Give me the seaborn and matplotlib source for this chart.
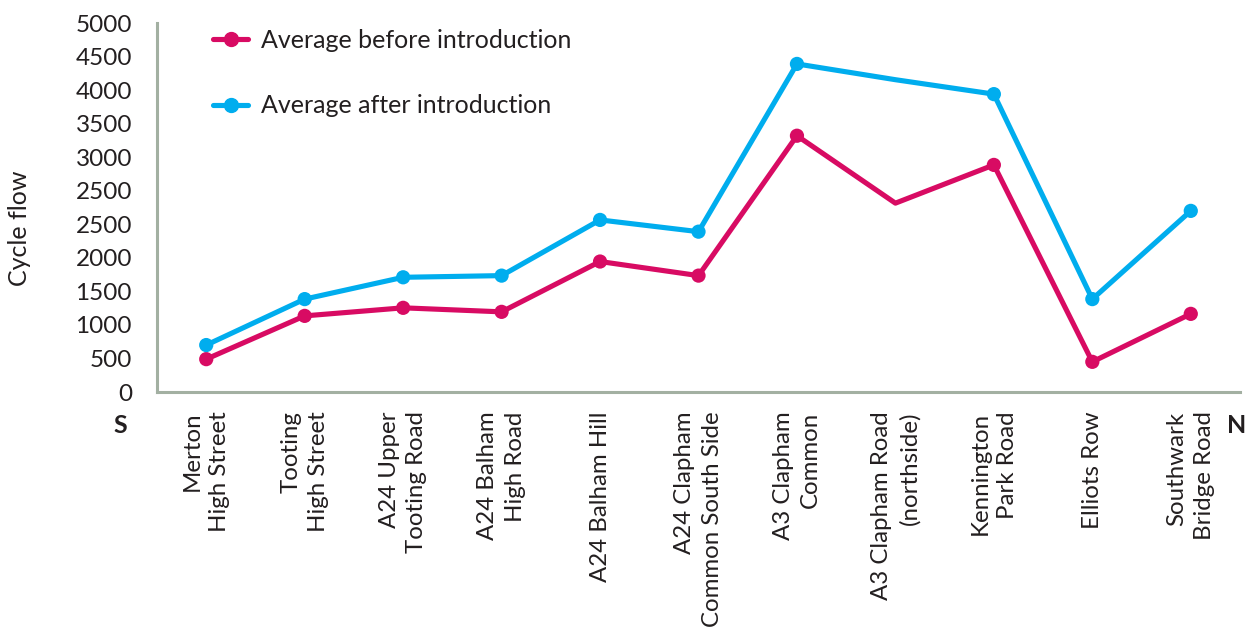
import matplotlib
matplotlib.use("Agg")
import matplotlib.pyplot as plt
from matplotlib.lines import Line2D
import numpy as np
import pandas as pd
import seaborn as sns

# Count sites, south to north
sites = [
    "Merton\nHigh Street",
    "Tooting\nHigh Street",
    "A24 Upper\nTooting Road",
    "A24 Balham\nHigh Road",
    "A24 Balham Hill",
    "A24 Clapham\nCommon South Side",
    "A3 Clapham\nCommon",
    "A3 Clapham Road\n(northside)",
    "Kennington\nPark Road",
    "Elliots Row",
    "Southwark\nBridge Road",
]

before = [490, 1135, 1255, 1195, 1945, 1735, 3820, 2815, 3385, 450, 1165]
after = [700, 1385, 1710, 1735, 2565, 2390, 4890, 4655, 4440, 1385, 2700]

# Sites with a measured point marker (the northside value is drawn as line only)
has_marker = [True, True, True, True, True, True, True, False, True, True, True]

series_names = ["Average before introduction", "Average after introduction"]
series_colors = ["#d80b63", "#00adee"]

y_ticks = [0, 500, 1000, 1500, 2000, 2500, 3000, 3500, 4000, 4500, 5000, 5500]
y_tick_labels = ["0", "500", "1000", "1500", "2000", "2500", "2500",
                 "3000", "3500", "4000", "4500", "5000"]

TEXT = "#231f20"
AXIS = "#a3b0a2"

sns.set_style("white")
plt.rcParams["font.family"] = ["Lato", "DejaVu Sans"]

df = pd.DataFrame({
    "pos": list(range(len(sites))) * 2,
    "flow": before + after,
    "series": [series_names[0]] * len(sites) + [series_names[1]] * len(sites),
    "marker": has_marker * 2,
})
palette = dict(zip(series_names, series_colors))

fig = plt.figure(figsize=(12.49, 6.32), dpi=100)
ax = fig.add_axes([0.1257, 0.3797, 0.8671, 0.5839])

sns.lineplot(data=df, x="pos", y="flow", hue="series", palette=palette,
             linewidth=3.7, sort=False, legend=False, ax=ax)
sns.scatterplot(data=df[df["marker"]], x="pos", y="flow", hue="series",
                palette=palette, s=105, linewidth=0, legend=False, ax=ax,
                zorder=3)

ax.set_xlim(-0.5, len(sites) - 0.5)
ax.set_ylim(0, 5500)

# Category boundaries carry the tick marks, centres carry the names
ax.set_xticks(np.arange(-0.5, len(sites) - 1, 1.0))
ax.set_xticklabels([])
ax.set_xticks(np.arange(len(sites)), minor=True)
ax.set_xticklabels(sites, minor=True, rotation=90, ha="center", va="top",
                   ma="right", fontsize=17.3, color=TEXT, linespacing=1.38)
ax.tick_params(axis="x", which="major", direction="out", length=6,
               width=2.2, color=AXIS)
ax.tick_params(axis="x", which="minor", length=0, pad=14)

ax.set_yticks(y_ticks)
ax.set_yticklabels(y_tick_labels, fontsize=17.5, color=TEXT)
ax.tick_params(axis="y", direction="out", length=9, width=2.2, color=AXIS,
               pad=9)

for side in ["top", "right"]:
    ax.spines[side].set_visible(False)
for side in ["left", "bottom"]:
    ax.spines[side].set_color(AXIS)
    ax.spines[side].set_linewidth(2.2)

ax.set_xlabel("")
ax.set_ylabel("Cycle flow", fontsize=18, color=TEXT)
ax.yaxis.set_label_coords(-0.116, 0.445)

ax.text(-0.034, -0.09, "S", transform=ax.transAxes, ha="center", va="center",
        fontsize=18, fontweight="bold", color=TEXT)
ax.text(0.997, -0.09, "N", transform=ax.transAxes, ha="center", va="center",
        fontsize=18, fontweight="bold", color=TEXT)

handles = [Line2D([0], [0], color=c, lw=3.7, marker="o", markersize=10)
           for c in series_colors]
leg = ax.legend(handles, series_names, loc="upper left",
                bbox_to_anchor=(0.0425, 1.011), frameon=False, fontsize=18,
                handlelength=1.4, handletextpad=0.5, labelspacing=1.7,
                borderaxespad=0)
for t in leg.get_texts():
    t.set_color(TEXT)

fig.savefig("out.png", dpi=100)
